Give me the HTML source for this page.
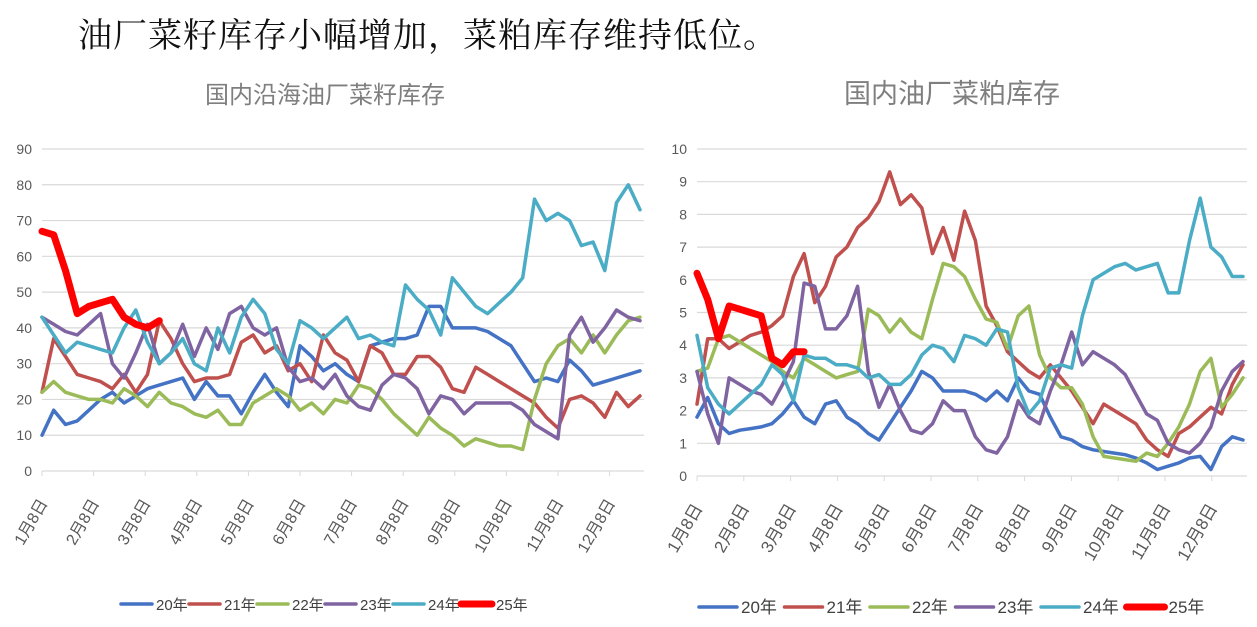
<!DOCTYPE html>
<html><head><meta charset="utf-8">
<style>
body{margin:0;background:#fff;width:1257px;height:627px;overflow:hidden;font-family:"Liberation Sans","Noto Sans CJK SC",sans-serif;}
#headline{position:absolute;left:78px;top:8px;font-size:34px;color:#111;font-family:"Liberation Serif","Noto Serif CJK SC","Noto Sans CJK SC",serif;letter-spacing:1px;}
svg{position:absolute;left:0;top:0;}
</style></head><body>
<div id="headline">油厂菜籽库存小幅增加，菜粕库存维持低位。</div>
<svg id="svg" width="1257" height="627"></svg>
<script>
const monthLabels=["1月8日","2月8日","3月8日","4月8日","5月8日","6月8日","7月8日","8月8日","9月8日","10月8日","11月8日","12月8日"];
const seriesNames=["20年","21年","22年","23年","24年","25年"];
const leftTicks=[0,10,20,30,40,50,60,70,80,90];
const rightTicks=[0,1,2,3,4,5,6,7,8,9,10];
const L20=[10,17,13,14,17,20,22,19,21,23,24,25,26,20,25,21,21,16,22,27,22,18,35,32,28,30,27,25,35,36,37,37,38,46,46,40,40,40,39,37,35,30,25,26,25,31,28,24,25,26,27,28];
const L21=[22,37,32,27,26,25,23,27,22,27,42,37,30,25,26,26,27,36,38,33,35,28,30,25,38,33,31,25,35,33,27,27,32,32,29,23,22,29,27,25,23,21,19,15,12,20,21,19,15,22,18,21];
const L22=[22,25,22,21,20,20,19,23,21,18,22,19,18,16,15,17,13,13,19,21,23,21,17,19,16,20,19,24,23,20,16,13,10,15,12,10,7,9,8,7,7,6,20,30,35,37,33,38,33,38,42,43];
const L23=[43,41,39,38,41,44,30,26,33,41,30,33,41,32,40,34,44,46,40,38,40,29,25,26,23,27,21,18,17,24,27,26,23,16,21,20,16,19,19,19,19,17,13,11,9,38,43,36,40,45,43,42];
const L24=[43,38,33,36,35,34,33,40,45,36,30,33,37,30,28,40,33,43,48,44,34,30,42,40,37,40,43,37,38,36,35,52,48,45,38,54,50,46,44,47,50,54,76,70,72,70,63,64,56,75,80,73];
const L25=[67,66,56,44,46,47,48,43,41,40,42];
const R20=[1.8,2.4,1.6,1.3,1.4,1.45,1.5,1.6,1.9,2.3,1.8,1.6,2.2,2.3,1.8,1.6,1.3,1.1,1.6,2.1,2.6,3.2,3.0,2.6,2.6,2.6,2.5,2.3,2.6,2.3,3.0,2.6,2.5,1.8,1.2,1.1,0.9,0.8,0.75,0.7,0.65,0.55,0.4,0.2,0.3,0.4,0.55,0.6,0.2,0.9,1.2,1.1];
const R21=[2.2,4.2,4.2,3.9,4.1,4.3,4.4,4.6,4.9,6.1,6.8,5.3,5.8,6.7,7.0,7.6,7.9,8.4,9.3,8.3,8.6,8.2,6.8,7.6,6.6,8.1,7.2,5.2,4.6,3.8,3.5,3.2,3.0,3.4,3.0,2.6,2.1,1.6,2.2,2.0,1.8,1.6,1.1,0.8,0.6,1.3,1.5,1.8,2.1,1.9,2.8,3.4];
const R22=[3.2,3.3,4.2,4.3,4.1,3.9,3.7,3.5,3.2,3.0,3.6,3.4,3.2,3.0,3.1,3.2,5.1,4.9,4.4,4.8,4.4,4.2,5.4,6.5,6.4,6.1,5.4,4.8,4.7,3.9,4.9,5.2,3.7,3.0,2.7,2.7,2.2,1.2,0.6,0.55,0.5,0.45,0.7,0.6,1.0,1.5,2.2,3.2,3.6,2.1,2.5,3.0];
const R23=[3.2,1.9,1.0,3.0,2.8,2.6,2.5,2.2,2.8,3.5,5.9,5.8,4.5,4.5,4.9,5.8,3.2,2.1,2.8,2.0,1.4,1.3,1.6,2.3,2.0,2.0,1.2,0.8,0.7,1.2,2.3,1.8,1.6,2.6,3.4,4.4,3.4,3.8,3.6,3.4,3.1,2.5,1.9,1.7,1.0,0.8,0.7,1.0,1.5,2.6,3.2,3.5];
const R24=[4.3,2.7,2.2,1.9,2.2,2.5,2.8,3.4,3.1,2.3,3.7,3.6,3.6,3.4,3.4,3.3,3.0,3.1,2.8,2.8,3.1,3.7,4.0,3.9,3.5,4.3,4.2,4.0,4.5,4.4,2.7,1.9,2.3,3.3,3.4,3.3,4.9,6.0,6.2,6.4,6.5,6.3,6.4,6.5,5.6,5.6,7.2,8.5,7.0,6.7,6.1,6.1];
const R25=[6.2,5.4,4.2,5.2,5.1,5.0,4.9,3.6,3.4,3.8,3.8];
const colors=["#4472c4","#c0504d","#9bbb59","#8064a2","#4bacc6","#ff0000"];
const NS="http://www.w3.org/2000/svg";
const svg=document.getElementById('svg');
function mk(tag,attrs,parent){const e=document.createElementNS(NS,tag);for(const k in attrs)e.setAttribute(k,attrs[k]);(parent||svg).appendChild(e);return e;}

function chart(cfg){
  const g=mk('g',{});
  
  
  const yMax=cfg.ticks[cfg.ticks.length-1];
  const ys=v=>cfg.y0-(v/yMax)*(cfg.y0-cfg.y1);
  const xs=i=>cfg.x0+i*(cfg.x1-cfg.x0)/51;
  const t=mk('text',{x:cfg.titleX,y:cfg.titleY,'text-anchor':'middle','font-size':cfg.titleSize,fill:'#7f7f7f'},g);
  t.textContent=cfg.title;
  
  
  cfg.ticks.forEach(v=>{
    const ln=mk('line',{x1:cfg.x0,x2:cfg.x1+4,y1:ys(v),y2:ys(v),stroke:'#d9d9d9','stroke-width':1.2},g);
    
    
    const tx=mk('text',{x:cfg.x0-10,y:ys(v)+5,'text-anchor':'end','font-size':14,fill:'#595959'},g);
    tx.textContent=v;
    
    
  });
  monthLabels.forEach((m,k)=>{
    const x=cfg.x0+k*cfg.tickStep;
    const tk=mk('line',{x1:x,x2:x,y1:cfg.y0,y2:cfg.y0+5,stroke:'#d9d9d9'},g);
    
    
    const ax=x+6, ay=cfg.y0+32;
    const tx=mk('text',{x:ax,y:ay,'text-anchor':'end','font-size':cfg.labelSize,fill:'#595959',transform:`rotate(-60 ${ax} ${ay})`},g);
    tx.textContent=m;
    
    
  });
  cfg.series.forEach((s,si)=>{
    const pts=s.map((v,i)=>xs(i).toFixed(1)+','+ys(v).toFixed(1)).join(' ');
    const pl=mk('polyline',{points:pts,fill:'none',stroke:colors[si],'stroke-width':si==5?cfg.thick:cfg.thin,'stroke-linejoin':'round','stroke-linecap':'round'},g);
    
    
  });
  seriesNames.forEach((n,si)=>{
    const lx=cfg.legX+si*cfg.legStep;
    const ln=mk('line',{x1:lx,x2:lx+cfg.legLen,y1:cfg.legY,y2:cfg.legY,stroke:colors[si],'stroke-width':si==5?cfg.thick:cfg.thin,'stroke-linecap':'round'},g);
    
    
    const tx=mk('text',{x:lx+cfg.legLen+4,y:cfg.legY+6,'font-size':cfg.legSize,fill:'#404040'},g);
    tx.textContent=n;
    
    
  });
}
chart({name:'seed-stock-chart',title:'国内沿海油厂菜籽库存',titleX:325,titleY:103,titleSize:24,
  x0:42,x1:640,y0:471,y1:149,ticks:leftTicks,tickStep:51.6,labelSize:16,
  series:[L20,L21,L22,L23,L24,L25],thin:3.5,thick:7,
  legX:121,legStep:68,legLen:31,legY:604,legSize:15});
chart({name:'meal-stock-chart',title:'国内油厂菜粕库存',titleX:952,titleY:103,titleSize:27,
  x0:697,x1:1243,y0:476,y1:149,ticks:rightTicks,tickStep:46.8,labelSize:17,
  series:[R20,R21,R22,R23,R24,R25],thin:3.5,thick:7,
  legX:699,legStep:85.5,legLen:38,legY:607,legSize:17});
</script>
</body></html>
